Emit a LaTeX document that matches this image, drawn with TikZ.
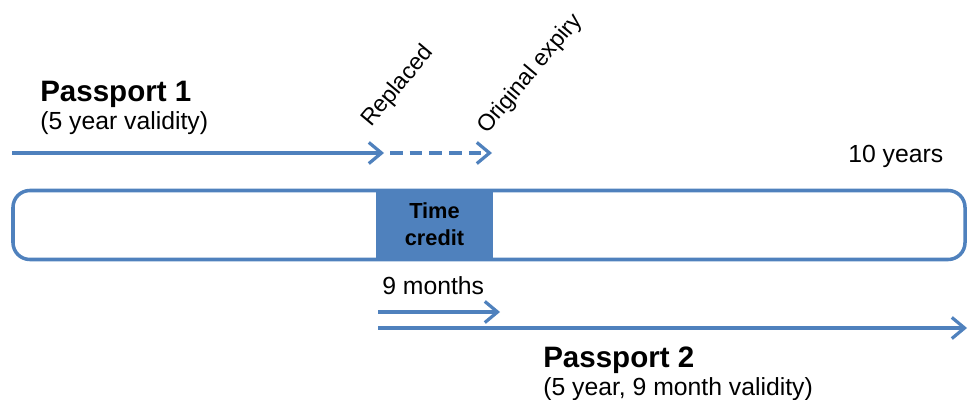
\documentclass[tikz,border=0pt]{standalone}
\usepackage{fontspec}
\setmainfont{Liberation Sans}
\usetikzlibrary{arrows.meta}
\definecolor{pblue}{HTML}{4F81BD}
\begin{document}
\begin{tikzpicture}[x=0.025cm,y=-0.025cm,
  line/.style={pblue,line width=2.5pt},
  arr/.style={line,-{Straight Barb[length=9pt,width=15pt,line width=2.3pt]}},
  title/.style={anchor=base west,inner sep=0pt,font=\fontsize{21}{25}\selectfont\bfseries},
  sub/.style={anchor=base west,inner sep=0pt,font=\fontsize{17.6}{21}\selectfont},
  slant/.style={anchor=base west,inner sep=0pt,rotate=50,font=\fontsize{16.5}{20}\selectfont}]
\useasboundingbox (0,0) rectangle (968,400);

% time line
\fill[pblue] (376,190) rectangle (493,259);
\draw[line,rounded corners=12] (13,190.5) rectangle (965,259.5);
\node[align=center,font=\fontsize{15.5}{19}\selectfont\bfseries] (credit) at (434.5,224) {Time\\credit};

% passport 1
\coordinate (p1start) at (12,153);
\coordinate (replaced) at (384,153);
\coordinate (dashstart) at (390,153);
\coordinate (expiry) at (492,153);
\draw[arr] (p1start) -- (replaced);
\draw[arr,dash pattern=on 9pt off 5pt] (dashstart) -- (expiry);
\node[title] (pass1) at (40,102) {Passport 1};
\node[sub] (valid1) at (40,130) {(5 year validity)};
\node[slant] (replacedlabel) at (371,128) {Replaced};
\node[slant] (expirylabel) at (487,135) {Original expiry};
\node[sub] (tenyears) at (848,163) {10 years};

% passport 2
\coordinate (p2start) at (378,312);
\coordinate (ninemonths) at (500,312);
\coordinate (p2from) at (378,328);
\coordinate (p2end) at (967,328);
\draw[arr] (p2start) -- (ninemonths);
\draw[arr] (p2from) -- (p2end);
\node[sub] (months) at (382,295) {9 months};
\node[title] (pass2) at (543,367) {Passport 2};
\node[sub] (valid2) at (543,395) {(5 year, 9 month validity)};
\end{tikzpicture}
\end{document}
